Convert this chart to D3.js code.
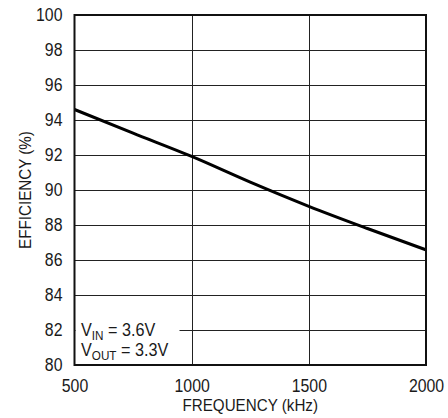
<!DOCTYPE html>
<html>
<head>
<meta charset="utf-8">
<script src="https://cdn.jsdelivr.net/npm/d3@7"></script>
<style>
  html, body { margin: 0; padding: 0; background: #fff; }
  svg { display: block; }
  text { font-family: "Liberation Sans Narrow", "Arial Narrow", "Liberation Sans", sans-serif; fill: #1a1a1a; }
</style>
</head>
<body>
<svg id="chart" width="448" height="418"></svg>
<script>
const frequency = [500, 750, 1000, 1250, 1500, 1750, 2000];
const efficiency = [94.6, 93.25, 91.92, 90.45, 89.07, 87.8, 86.58];
const xTicks = [500, 1000, 1500, 2000];
const yTicks = [80, 82, 84, 86, 88, 90, 92, 94, 96, 98, 100];
const legendLines = [["V", "IN", " = 3.6V"], ["V", "OUT", " = 3.3V"]];

const svg = d3.select("#chart");
const x = d3.scaleLinear().domain([500, 2000]).range([74.5, 426]);
const y = d3.scaleLinear().domain([80, 100]).range([365, 15]);

function condense(sel, f) {
  sel.each(function () {
    const w = this.getComputedTextLength();
    d3.select(this).attr("textLength", w * f).attr("lengthAdjust", "spacingAndGlyphs");
  });
}

// grid
svg.append("g").selectAll("line").data(yTicks.slice(1, -1)).join("line")
  .attr("x1", x(500)).attr("x2", x(2000))
  .attr("y1", d => Math.round(y(d)) + 0.5).attr("y2", d => Math.round(y(d)) + 0.5)
  .attr("stroke", "#222").attr("stroke-width", 1);
svg.append("g").selectAll("line").data(xTicks.slice(1, -1)).join("line")
  .attr("x1", d => Math.round(x(d)) + 0.5).attr("x2", d => Math.round(x(d)) + 0.5)
  .attr("y1", y(100)).attr("y2", y(80))
  .attr("stroke", "#222").attr("stroke-width", 1);

// legend mask
svg.append("rect").attr("x", x(500) + 1).attr("y", y(83)).attr("width", 104).attr("height", y(80) - y(83) - 1)
  .attr("fill", "#fff");

// curve
const line = d3.line().x((d, i) => x(frequency[i])).y(d => y(d)).curve(d3.curveMonotoneX);
svg.append("path").datum(efficiency).attr("d", line)
  .attr("fill", "none").attr("stroke", "#000").attr("stroke-width", 3);

// frame
svg.append("rect").attr("x", x(500)).attr("y", y(100)).attr("width", x(2000) - x(500)).attr("height", y(80) - y(100))
  .attr("fill", "none").attr("stroke", "#111").attr("stroke-width", 2);

// axes
const xAxis = d3.axisBottom(x).tickValues(xTicks).tickSize(0).tickPadding(14).tickFormat(d3.format("d"));
const gx = svg.append("g").attr("transform", `translate(0,${y(80)})`).call(xAxis);
gx.select(".domain").remove();
gx.selectAll("text").attr("font-size", 18).style("font-family", null);
condense(gx.selectAll("text"), 0.88);

const yAxis = d3.axisLeft(y).tickValues(yTicks).tickSize(0).tickPadding(12).tickFormat(d3.format("d"));
const gy = svg.append("g").attr("transform", `translate(${x(500)},0)`).call(yAxis);
gy.select(".domain").remove();
gy.selectAll("text").attr("font-size", 18).style("font-family", null);
condense(gy.selectAll("text"), 0.88);

// titles
const xt = svg.append("text").attr("x", (x(500) + x(2000)) / 2).attr("y", 411).attr("text-anchor", "middle")
  .attr("font-size", 16.5).text("FREQUENCY (kHz)");
condense(xt, 0.92);
const yt = svg.append("text").attr("transform", `translate(31,${(y(80) + y(100)) / 2}) rotate(-90)`).attr("text-anchor", "middle")
  .attr("font-size", 16.5).text("EFFICIENCY (%)");
condense(yt, 0.92);

// legend text
legendLines.forEach((parts, i) => {
  const t = svg.append("text").attr("x", 81).attr("y", 336 + i * 20).attr("font-size", 18);
  t.append("tspan").text(parts[0]);
  t.append("tspan").attr("font-size", 13).attr("dy", 4).text(parts[1]);
  t.append("tspan").attr("dy", -4).text(parts[2]);
  condense(t, 0.9);
});
</script>
</body>
</html>
